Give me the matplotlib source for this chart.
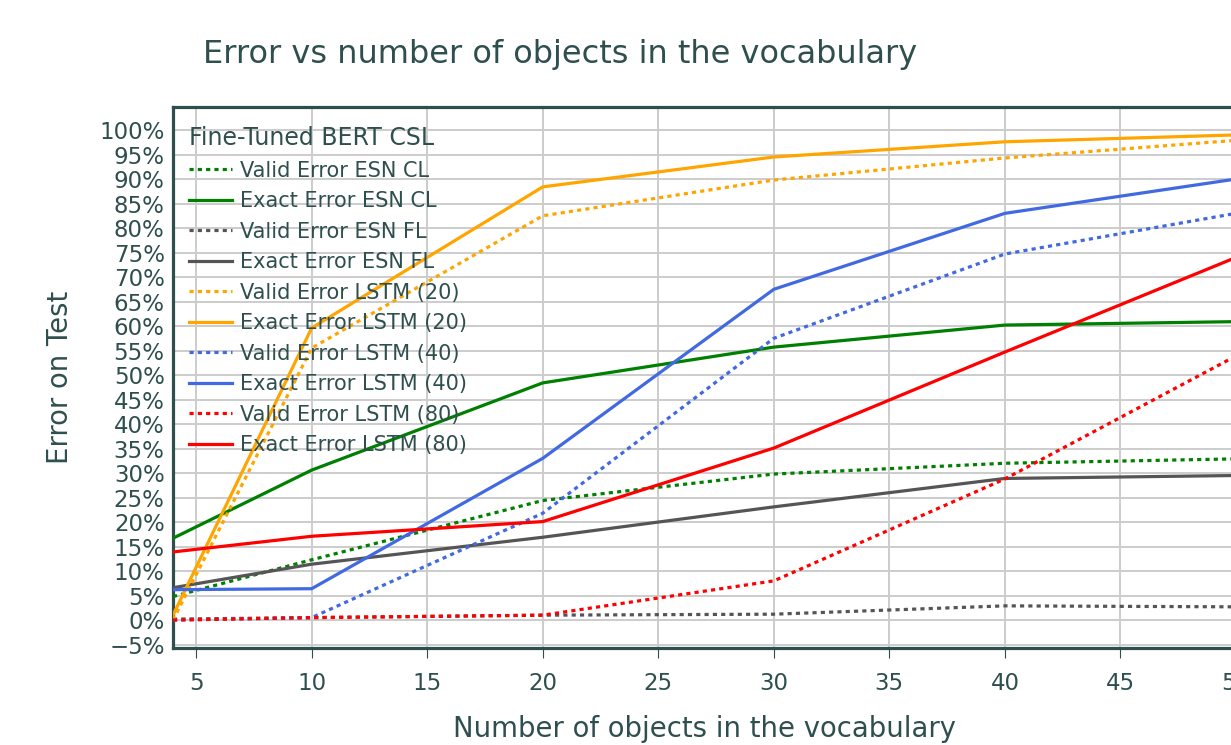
import numpy as np
import matplotlib
matplotlib.use("Agg")
import matplotlib.pyplot as plt
from matplotlib.ticker import FuncFormatter, MultipleLocator

# =========================================================
# DATOS
# =========================================================
n_objetos = [4, 10, 20, 30, 40, 50]

valid_esn_cl = [4.8, 12.3, 24.4, 29.8, 32.0, 32.9]
exact_esn_cl = [16.7, 30.6, 48.4, 55.7, 60.2, 60.9]
valid_esn_fl = [0.2, 0.5, 1.0, 1.2, 2.9, 2.7]
exact_esn_fl = [6.6, 11.4, 16.9, 23.1, 28.9, 29.5]
valid_lstm20 = [0.0, 55.5, 82.5, 89.8, 94.3, 97.9]
exact_lstm20 = [1.0, 59.6, 88.4, 94.5, 97.6, 99.0]
valid_lstm40 = [0.0, 0.5, 21.8, 57.5, 74.7, 83.0]
exact_lstm40 = [6.2, 6.4, 33.0, 67.5, 83.0, 90.0]
valid_lstm80 = [0.0, 0.5, 1.0, 8.0, 28.8, 53.9]
exact_lstm80 = [13.9, 17.1, 20.1, 35.1, 54.7, 74.0]

series = [
    ("Valid Error ESN CL", valid_esn_cl, "green", True),
    ("Exact Error ESN CL", exact_esn_cl, "green", False),
    ("Valid Error ESN FL", valid_esn_fl, "#555555", True),
    ("Exact Error ESN FL", exact_esn_fl, "#555555", False),
    ("Valid Error LSTM (20)", valid_lstm20, "orange", True),
    ("Exact Error LSTM (20)", exact_lstm20, "orange", False),
    ("Valid Error LSTM (40)", valid_lstm40, "royalblue", True),
    ("Exact Error LSTM (40)", exact_lstm40, "royalblue", False),
    ("Valid Error LSTM (80)", valid_lstm80, "red", True),
    ("Exact Error LSTM (80)", exact_lstm80, "red", False),
]

# =========================================================
# ESTILO
# =========================================================
texto = "#2F4F4F"
plt.rcParams["font.family"] = ["DejaVu Sans"]
plt.rcParams["text.color"] = texto

W, H = 1231, 745
fig = plt.figure(figsize=(W / 100, H / 100), dpi=100)

# el eje se sale un poco por la derecha, como en la imagen original
izq, der, arr, aba = 173, 1236, 107, 648
ax = fig.add_axes([izq / W, 1 - aba / H, (der - izq) / W, (aba - arr) / H])

for nombre, valores, color, punteada in series:
    ax.plot(n_objetos, valores, color=color, linewidth=2.3,
            linestyle=(0, (1.3, 1.3)) if punteada else "-",
            dash_capstyle="butt", label=nombre, zorder=3)

# =========================================================
# EJES
# =========================================================
ax.set_xlim(4, 50)
ax.set_ylim(-5.7, 104.7)
ax.xaxis.set_major_locator(MultipleLocator(5))
ax.yaxis.set_major_locator(MultipleLocator(5))
ax.yaxis.set_major_formatter(
    FuncFormatter(lambda v, _: f"{v:g}%".replace("-", "\u2212")))

ax.grid(True, color="#cccccc", linewidth=1.4, zorder=0)
ax.set_axisbelow(True)

for s in ax.spines.values():
    s.set_color(texto)
    s.set_linewidth(2.3)

ax.tick_params(axis="x", direction="out", length=7, width=0.8,
               color=texto, labelcolor=texto, labelsize=16.5, pad=10)
ax.tick_params(axis="y", length=0, labelcolor=texto, labelsize=16.5, pad=6)

ax.set_xlabel("Number of objects in the vocabulary", fontsize=19.8,
              color=texto, labelpad=15)
ax.set_ylabel("Error on Test", fontsize=19.8, color=texto, labelpad=18)

fig.text(203 / W, 1 - 55 / H, "Error vs number of objects in the vocabulary",
         fontsize=23, color=texto, ha="left", va="center")

# Leyenda dentro, arriba a la izquierda
ley = ax.legend(
    loc="upper left",
    bbox_to_anchor=((189 - izq) / (der - izq), (aba - 126) / (aba - arr)),
    title="Fine-Tuned BERT CSL",
    fontsize=15,
    title_fontsize=17,
    frameon=False,
    borderaxespad=0,
    borderpad=0,
    handlelength=2.05,
    handletextpad=0.42,
    labelspacing=0.505,
    alignment="left",
)
for t in ley.get_texts():
    t.set_color(texto)
ley.get_title().set_color(texto)

plt.savefig("out.png", dpi=100)
